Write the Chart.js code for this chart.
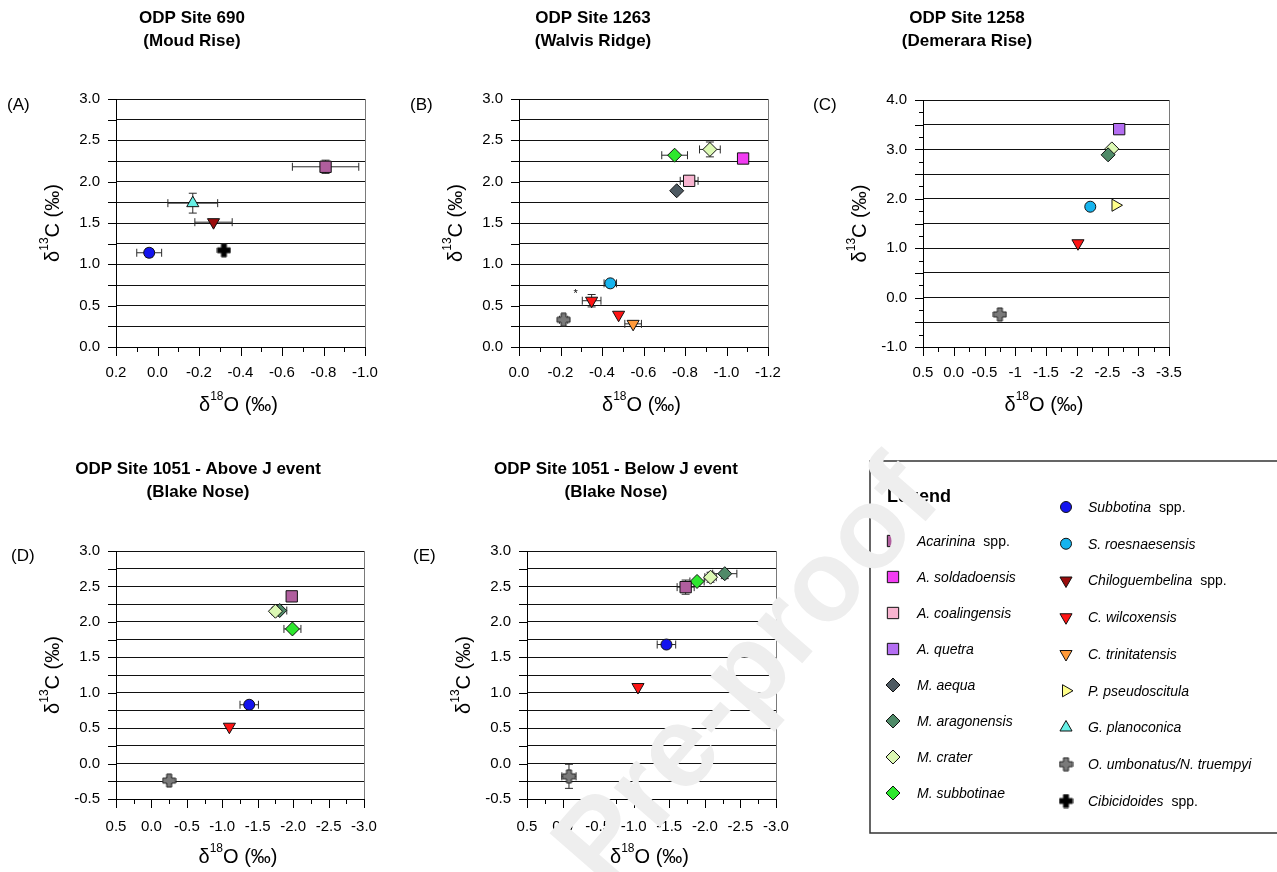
<!DOCTYPE html>
<html>
<head>
<meta charset="utf-8">
<title>Isotope cross-plots</title>
<script src="https://cdn.jsdelivr.net/npm/chart.js@4.4.1/dist/chart.umd.min.js"></script>
<style>
  body { margin: 0; background: #fff; width: 1277px; height: 872px; overflow: hidden; position: relative; }
  canvas { position: absolute; left: 0; top: 0; }
</style>
</head>
<body>
<canvas id="panelA" width="1277" height="872"></canvas>
<canvas id="panelB" width="1277" height="872"></canvas>
<canvas id="panelC" width="1277" height="872"></canvas>
<canvas id="panelD" width="1277" height="872"></canvas>
<canvas id="panelE" width="1277" height="872"></canvas>
<canvas id="overlay" width="1277" height="872"></canvas>
<script>
// ---- data: d18O (x) / d13C (y) per site, with 1-sigma error bars ----

// ODP Site 690
const taxaA = ['Acarinina spp.', 'G. planoconica', 'Chiloguembelina spp.', 'Subbotina spp.', 'Cibicidoides spp.'];
const d18O_A = [-0.81, -0.17, -0.27, 0.04, -0.32];
const d13C_A = [2.18, 1.74, 1.51, 1.14, 1.17];
const d18Oerr_A = [0.16, 0.12, 0.09, 0.06, 0];
const d13Cerr_A = [0.08, 0.12, 0, 0.05, 0];

// ODP Site 1263
const taxaB = ['M. subbotinae', 'M. crater', 'A. soldadoensis', 'A. coalingensis', 'M. aequa',
  'S. roesnaesensis', 'C. wilcoxensis', 'C. wilcoxensis', 'C. trinitatensis', 'O. umbonatus/N. truempyi'];
const d18O_B = [-0.75, -0.92, -1.08, -0.82, -0.76, -0.44, -0.35, -0.48, -0.55, -0.215];
const d13C_B = [2.32, 2.39, 2.28, 2.01, 1.89, 0.77, 0.56, 0.39, 0.28, 0.33];
const d18Oerr_B = [0.062, 0.05, 0, 0.043, 0, 0.03, 0.045, 0, 0.04, 0.02];
const d13Cerr_B = [0, 0.09, 0, 0, 0, 0, 0.075, 0, 0, 0];

// ODP Site 1258
const taxaC = ['A. quetra', 'M. aragonensis', 'M. crater', 'S. roesnaesensis', 'P. pseudoscitula',
  'C. wilcoxensis', 'O. umbonatus/N. truempyi'];
const d18O_C = [-2.69, -2.51, -2.57, -2.22, -2.63, -2.02, -0.75];
const d13C_C = [3.41, 2.89, 3.01, 1.84, 1.87, 1.10, -0.34];
const d18Oerr_C = [0, 0, 0, 0, 0, 0, 0];
const d13Cerr_C = [0, 0, 0, 0, 0, 0, 0];

// ODP Site 1051, above the J event
const taxaD = ['Acarinina spp.', 'M. crater', 'M. aragonensis', 'M. subbotinae', 'Subbotina spp.',
  'C. wilcoxensis', 'O. umbonatus/N. truempyi'];
const d18O_D = [-1.98, -1.75, -1.81, -1.99, -1.38, -1.10, -0.25];
const d13C_D = [2.36, 2.15, 2.16, 1.90, 0.83, 0.52, -0.24];
const d18Oerr_D = [0.04, 0.05, 0.1, 0.12, 0.13, 0, 0.03];
const d13Cerr_D = [0.03, 0, 0, 0, 0, 0, 0];

// ODP Site 1051, below the J event
const taxaE = ['O. umbonatus/N. truempyi', 'C. wilcoxensis', 'Subbotina spp.', 'Acarinina spp.',
  'M. subbotinae', 'M. crater', 'M. aragonensis'];
const d18O_E = [-0.09, -1.06, -1.46, -1.73, -1.89, -2.08, -2.28];
const d13C_E = [-0.18, 1.08, 1.68, 2.49, 2.57, 2.63, 2.68];
const d18Oerr_E = [0.1, 0, 0.13, 0.12, 0.1, 0.08, 0.17];
const d13Cerr_E = [0.17, 0, 0, 0.1, 0, 0.07, 0.07];

// tick labels
const xLabelsA = ['0.2', '0.0', '-0.2', '-0.4', '-0.6', '-0.8', '-1.0'];
const xLabelsB = ['0.0', '-0.2', '-0.4', '-0.6', '-0.8', '-1.0', '-1.2'];
const xLabelsC = ['0.5', '0.0', '-0.5', '-1', '-1.5', '-2', '-2.5', '-3', '-3.5'];
const xLabelsDE = ['0.5', '0.0', '-0.5', '-1.0', '-1.5', '-2.0', '-2.5', '-3.0'];
const yLabelsAB = ['0.0', '0.5', '1.0', '1.5', '2.0', '2.5', '3.0'];
const yLabelsC = ['-1.0', '0.0', '1.0', '2.0', '3.0', '4.0'];
const yLabelsDE = ['-0.5', '0.0', '0.5', '1.0', '1.5', '2.0', '2.5', '3.0'];

// legend order
const legendLeft = ['Acarinina spp.', 'A. soldadoensis', 'A. coalingensis', 'A. quetra',
  'M. aequa', 'M. aragonensis', 'M. crater', 'M. subbotinae'];
const legendRight = ['Subbotina spp.', 'S. roesnaesensis', 'Chiloguembelina spp.', 'C. wilcoxensis',
  'C. trinitatensis', 'P. pseudoscitula', 'G. planoconica', 'O. umbonatus/N. truempyi', 'Cibicidoides spp.'];

// ---- marker styles ----
const taxonStyle = {
  'Acarinina spp.': { shape: 'rect', fill: '#b05e9e' },
  'A. soldadoensis': { shape: 'rect', fill: '#f23cf2' },
  'A. coalingensis': { shape: 'rect', fill: '#f8b4d0' },
  'A. quetra': { shape: 'rect', fill: '#b46ef2' },
  'M. aequa': { shape: 'diamond', fill: '#4e5a62' },
  'M. aragonensis': { shape: 'diamond', fill: '#4f8a68' },
  'M. crater': { shape: 'diamond', fill: '#dcf9b4' },
  'M. subbotinae': { shape: 'diamond', fill: '#2ee82e' },
  'Subbotina spp.': { shape: 'circle', fill: '#1414ee' },
  'S. roesnaesensis': { shape: 'circle', fill: '#16b4ee' },
  'Chiloguembelina spp.': { shape: 'down', fill: '#9a0c0c' },
  'C. wilcoxensis': { shape: 'down', fill: '#ff1414' },
  'C. trinitatensis': { shape: 'down', fill: '#ff9a3a' },
  'P. pseudoscitula': { shape: 'right', fill: '#ffff8a' },
  'G. planoconica': { shape: 'up', fill: '#66f0e6' },
  'O. umbonatus/N. truempyi': { shape: 'plus', fill: '#7a7a7a' },
  'Cibicidoides spp.': { shape: 'plus', fill: '#000000' }
};

const FONT = '"Liberation Sans", Arial, sans-serif';
Chart.defaults.font.family = FONT;
Chart.defaults.color = '#000';

// thick plus sign used for the benthic taxa
function makePlus(fill) {
  const c = document.createElement('canvas');
  c.width = 15; c.height = 15;
  const g = c.getContext('2d');
  const m = 7.5, a = 2.5, b = 6.5;
  g.beginPath();
  g.moveTo(m - a, m - b); g.lineTo(m + a, m - b); g.lineTo(m + a, m - a); g.lineTo(m + b, m - a);
  g.lineTo(m + b, m + a); g.lineTo(m + a, m + a); g.lineTo(m + a, m + b); g.lineTo(m - a, m + b);
  g.lineTo(m - a, m + a); g.lineTo(m - b, m + a); g.lineTo(m - b, m - a); g.lineTo(m - a, m - a);
  g.closePath();
  g.fillStyle = fill; g.fill();
  g.lineWidth = 1; g.strokeStyle = '#222'; g.stroke();
  return c;
}
const plusImages = {};
Object.keys(taxonStyle).forEach(t => {
  if (taxonStyle[t].shape === 'plus') plusImages[t] = makePlus(taxonStyle[t].fill);
});

function markerOpts(taxon) {
  const s = taxonStyle[taxon];
  const o = { pointStyle: 'circle', radius: 5.5, rotation: 0, borderWidth: 1, fill: s.fill };
  switch (s.shape) {
    case 'rect': o.pointStyle = 'rect'; o.radius = 8; break;
    case 'diamond': o.pointStyle = 'rectRot'; o.radius = 7; break;
    case 'up': o.pointStyle = 'triangle'; o.radius = 7; break;
    case 'down': o.pointStyle = 'triangle'; o.radius = 7; o.rotation = 180; break;
    case 'right': o.pointStyle = 'triangle'; o.radius = 7; o.rotation = 90; break;
    case 'plus': o.pointStyle = plusImages[taxon]; o.radius = 7; break;
  }
  return o;
}

// ---- panel layout ----
const panels = [
  { id: 'panelA', letter: '(A)', letterPos: [7, 105], title: ['ODP Site 690', '(Moud Rise)'], titleX: 192, titleY: [18, 41],
    taxa: taxaA, x: d18O_A, y: d13C_A, xErr: d18Oerr_A, yErr: d13Cerr_A,
    xMin: -1.0, xMax: 0.2, xStep: 0.1, xLabels: xLabelsA, yMin: 0, yMax: 3, yStep: 0.25, yGrid: 0.25, yLabels: yLabelsAB,
    area: { l: 116, t: 99, r: 365, b: 347 }, xPad: 8 },
  { id: 'panelB', letter: '(B)', letterPos: [410, 105], title: ['ODP Site 1263', '(Walvis Ridge)'], titleX: 593, titleY: [18, 41],
    taxa: taxaB, x: d18O_B, y: d13C_B, xErr: d18Oerr_B, yErr: d13Cerr_B,
    xMin: -1.2, xMax: 0.0, xStep: 0.1, xLabels: xLabelsB, yMin: 0, yMax: 3, yStep: 0.25, yGrid: 0.25, yLabels: yLabelsAB,
    area: { l: 519, t: 99, r: 768, b: 347 }, xPad: 8, star: 6 },
  { id: 'panelC', letter: '(C)', letterPos: [813, 105], title: ['ODP Site 1258', '(Demerara Rise)'], titleX: 967, titleY: [18, 41],
    taxa: taxaC, x: d18O_C, y: d13C_C, xErr: d18Oerr_C, yErr: d13Cerr_C,
    xMin: -3.5, xMax: 0.5, xStep: 0.25, xLabels: xLabelsC, yMin: -1, yMax: 4, yStep: 0.25, yGrid: 0.5, yLabels: yLabelsC,
    area: { l: 923, t: 100, r: 1169, b: 347 }, xPad: 8 },
  { id: 'panelD', letter: '(D)', letterPos: [11, 556], title: ['ODP Site 1051 - Above J event', '(Blake Nose)'], titleX: 198, titleY: [469, 492],
    taxa: taxaD, x: d18O_D, y: d13C_D, xErr: d18Oerr_D, yErr: d13Cerr_D,
    xMin: -3.0, xMax: 0.5, xStep: 0.25, xLabels: xLabelsDE, yMin: -0.5, yMax: 3, yStep: 0.25, yGrid: 0.25, yLabels: yLabelsDE,
    area: { l: 116, t: 551, r: 364, b: 799 }, xPad: 10 },
  { id: 'panelE', letter: '(E)', letterPos: [413, 556], title: ['ODP Site 1051 - Below J event', '(Blake Nose)'], titleX: 616, titleY: [469, 492],
    taxa: taxaE, x: d18O_E, y: d13C_E, xErr: d18Oerr_E, yErr: d13Cerr_E,
    xMin: -3.0, xMax: 0.5, xStep: 0.25, xLabels: xLabelsDE, yMin: -0.5, yMax: 3, yStep: 0.25, yGrid: 0.25, yLabels: yLabelsDE,
    area: { l: 527, t: 551, r: 776, b: 799 }, xPad: 10 }
];
const panelById = {};
panels.forEach(p => { panelById[p.id] = p; });

const near = (a, b) => Math.abs(a - b) < 1e-6;
const labelFor = (labels, v) => labels.find(s => near(parseFloat(s), v));
const onGrid = (v, step) => near(Math.round(v / step) * step, v);

// delta notation label with a superscript mass number
function deltaLabel(ctx, cx, cy, iso, rest, vertical) {
  const big = '20px ' + FONT, small = '12px ' + FONT;
  ctx.save();
  ctx.translate(cx, cy);
  if (vertical) ctx.rotate(-Math.PI / 2);
  ctx.fillStyle = '#000';
  ctx.textAlign = 'left';
  ctx.textBaseline = 'alphabetic';
  ctx.font = big;
  const w1 = ctx.measureText('δ').width, w3 = ctx.measureText(rest).width;
  ctx.font = small;
  const w2 = ctx.measureText(iso).width;
  let x = -(w1 + w2 + w3) / 2;
  ctx.font = big; ctx.fillText('δ', x, 7); x += w1;
  ctx.font = small; ctx.fillText(iso, x, -4); x += w2;
  ctx.font = big; ctx.fillText(rest, x, 7);
  ctx.restore();
}

function seg(ctx, x1, y1, x2, y2) {
  ctx.beginPath(); ctx.moveTo(x1, y1); ctx.lineTo(x2, y2); ctx.stroke();
}

const panelDecor = {
  id: 'panelDecor',
  beforeDatasetsDraw(chart) {
    const p = panelById[chart.canvas.id];
    const xs = chart.scales.x, ys = chart.scales.y, ctx = chart.ctx;
    ctx.save();
    ctx.strokeStyle = '#2a2a2a';
    ctx.lineWidth = 1;
    p.taxa.forEach((t, i) => {
      const px = xs.getPixelForValue(p.x[i]), py = ys.getPixelForValue(p.y[i]);
      if (p.xErr[i] > 0) {
        const a = xs.getPixelForValue(p.x[i] - p.xErr[i]), b = xs.getPixelForValue(p.x[i] + p.xErr[i]);
        seg(ctx, a, py, b, py); seg(ctx, a, py - 4, a, py + 4); seg(ctx, b, py - 4, b, py + 4);
      }
      if (p.yErr[i] > 0) {
        const a = ys.getPixelForValue(p.y[i] - p.yErr[i]), b = ys.getPixelForValue(p.y[i] + p.yErr[i]);
        seg(ctx, px, a, px, b); seg(ctx, px - 4, a, px + 4, a); seg(ctx, px - 4, b, px + 4, b);
      }
    });
    ctx.restore();
  },
  afterDatasetsDraw(chart) {
    const p = panelById[chart.canvas.id];
    if (p.star === undefined) return;
    // asterisk beside the flagged C. wilcoxensis sample
    const ctx = chart.ctx;
    const px = chart.scales.x.getPixelForValue(p.x[p.star]), py = chart.scales.y.getPixelForValue(p.y[p.star]);
    ctx.save();
    ctx.font = '11px ' + FONT; ctx.fillStyle = '#000'; ctx.textAlign = 'center'; ctx.textBaseline = 'middle';
    ctx.fillText('*', px - 16, py - 7);
    ctx.restore();
  },
  afterDraw(chart) {
    const p = panelById[chart.canvas.id];
    const xs = chart.scales.x, ys = chart.scales.y, ctx = chart.ctx, a = chart.chartArea;
    ctx.save();
    ctx.strokeStyle = '#000';
    ctx.lineWidth = 1;
    xs.ticks.forEach(t => {
      const x = Math.round(xs.getPixelForValue(t.value)) + 0.5;
      seg(ctx, x, a.bottom, x, a.bottom + (labelFor(p.xLabels, t.value) ? 9 : 5));
    });
    ys.ticks.forEach(t => {
      const y = Math.round(ys.getPixelForValue(t.value)) + 0.5;
      const major = labelFor(p.yLabels, t.value) || onGrid(t.value, p.yGrid);
      seg(ctx, a.left - (major ? 8 : 4), y, a.left, y);
    });
    ctx.strokeStyle = '#7a7a7a';
    seg(ctx, Math.round(a.right) + 0.5, a.top, Math.round(a.right) + 0.5, a.bottom);

    ctx.fillStyle = '#000';
    ctx.textBaseline = 'middle';
    ctx.textAlign = 'left';
    ctx.font = '17px ' + FONT;
    ctx.fillText(p.letter, p.letterPos[0], p.letterPos[1]);
    ctx.textAlign = 'center';
    ctx.font = 'bold 17px ' + FONT;
    ctx.fillText(p.title[0], p.titleX, p.titleY[0]);
    ctx.fillText(p.title[1], p.titleX, p.titleY[1]);
    ctx.restore();

    deltaLabel(ctx, a.left - 64, (a.top + a.bottom) / 2, '13', 'C (‰)', true);
    deltaLabel(ctx, (a.left + a.right) / 2 - 2, a.bottom + 57, '18', 'O (‰)', false);
  }
};

panels.forEach(p => {
  const W = 1277, H = 872;
  const datasets = p.taxa.map((t, i) => {
    const m = markerOpts(t);
    return {
      label: t,
      data: [{ x: p.x[i], y: p.y[i] }],
      pointStyle: m.pointStyle,
      pointRadius: m.radius,
      pointRotation: m.rotation,
      pointBackgroundColor: m.fill,
      pointBorderColor: '#111',
      pointBorderWidth: m.borderWidth,
      showLine: false
    };
  });
  new Chart(document.getElementById(p.id), {
    type: 'scatter',
    data: { datasets },
    plugins: [panelDecor],
    options: {
      responsive: false,
      animation: false,
      events: [],
      layout: { padding: { left: p.area.l - 60, top: p.area.t, right: W - p.area.r, bottom: H - p.area.b - 40 } },
      plugins: { legend: { display: false }, tooltip: { enabled: false } },
      scales: {
        x: {
          type: 'linear', reverse: true, min: p.xMin, max: p.xMax,
          afterFit: s => { s.height = 40; },
          border: { display: true, color: '#000', width: 1 },
          grid: { display: true, drawOnChartArea: false, drawTicks: true, tickLength: 9, tickColor: 'transparent' },
          ticks: {
            stepSize: p.xStep, autoSkip: false, maxRotation: 0, minRotation: 0, padding: p.xPad,
            font: { size: 15 }, color: '#000',
            callback: v => labelFor(p.xLabels, v) || ''
          }
        },
        y: {
          type: 'linear', min: p.yMin, max: p.yMax,
          afterFit: s => { s.width = 60; },
          border: { display: true, color: '#000', width: 1 },
          grid: {
            display: true, drawOnChartArea: true, drawTicks: true, tickLength: 8, tickColor: 'transparent',
            color: c => (c.tick && onGrid(c.tick.value, p.yGrid)) ? '#111' : 'transparent', lineWidth: 1
          },
          ticks: {
            stepSize: p.yStep, autoSkip: false, padding: 8, font: { size: 15 }, color: '#000',
            callback: v => labelFor(p.yLabels, v) || ''
          }
        }
      }
    }
  });
});

// ---- legend box and watermark ----
(function drawOverlay() {
  const ctx = document.getElementById('overlay').getContext('2d');
  ctx.strokeStyle = '#333';
  ctx.lineWidth = 1.5;
  ctx.beginPath();
  ctx.moveTo(1280, 461); ctx.lineTo(870, 461); ctx.lineTo(870, 833); ctx.lineTo(1280, 833);
  ctx.stroke();

  ctx.fillStyle = '#000';
  ctx.textBaseline = 'middle';
  ctx.textAlign = 'left';
  ctx.font = 'bold 18px ' + FONT;
  ctx.fillText('Legend', 887, 497);

  function entry(taxon, mx, tx, y) {
    const m = markerOpts(taxon);
    if (Chart.helpers && Chart.helpers.drawPoint) {
      ctx.save();
      ctx.fillStyle = m.fill; ctx.strokeStyle = '#111'; ctx.lineWidth = 1;
      Chart.helpers.drawPoint(ctx, { pointStyle: m.pointStyle, radius: m.radius, rotation: m.rotation, borderWidth: 1 }, mx, y);
      ctx.restore();
    }
    ctx.fillStyle = '#000';
    const spp = taxon.endsWith(' spp.');
    const name = spp ? taxon.slice(0, -5) : taxon;
    ctx.font = 'italic 14px ' + FONT;
    ctx.fillText(name, tx, y + 1);
    if (spp) {
      const w = ctx.measureText(name).width;
      ctx.font = '14px ' + FONT;
      ctx.fillText('spp.', tx + w + 8, y + 1);
    }
  }
  legendLeft.forEach((t, i) => entry(t, 893, 917, 541 + i * 36));
  legendRight.forEach((t, i) => entry(t, 1066, 1088, 507 + i * 36.75));

  ctx.save();
  ctx.translate(750, 675);
  ctx.rotate(-49 * Math.PI / 180);
  ctx.font = 'bold 115px ' + FONT;
  ctx.fillStyle = '#eeeeee';
  ctx.textAlign = 'center';
  ctx.textBaseline = 'middle';
  ctx.fillText('Pre-proof', 0, 0);
  ctx.restore();
})();
</script>
